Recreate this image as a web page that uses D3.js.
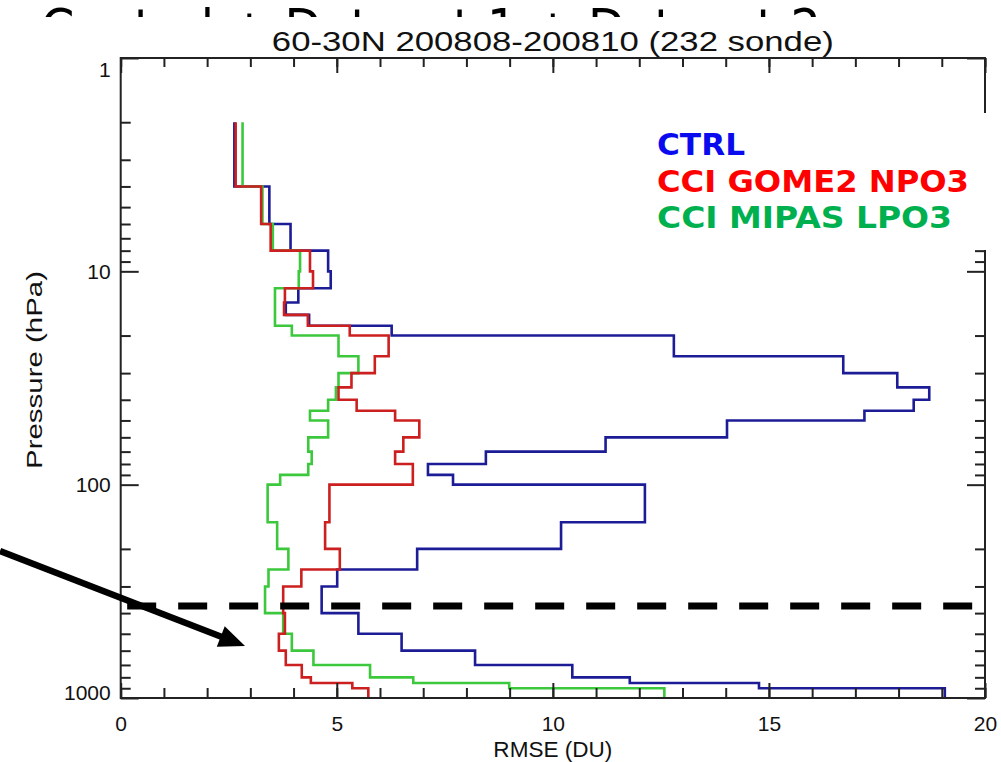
<!DOCTYPE html>
<html>
<head>
<meta charset="utf-8">
<script src="https://cdn.jsdelivr.net/npm/d3@7"></script>
<style>
  html, body { margin: 0; padding: 0; background: #fff; }
  svg { display: block; }
</style>
</head>
<body>
<svg id="chart" width="1001" height="762"></svg>
<script>
// ---------------- DATA ----------------
const slideTitle = "Control + Dataset 1 + Dataset 2";
const chartTitle = "60-30N 200808-200810 (232 sonde)";
const xLabel = "RMSE (DU)";
const yLabel = "Pressure (hPa)";
const xTicks = [0, 5, 10, 15, 20];
const xTickLabels = ["0", "5", "10", "15", "20"];
const yTicks = [1, 10, 100, 1000];
const yTickLabels = ["1", "10", "100", "1000"];
const seriesNames = ["CTRL", "CCI GOME2 NPO3", "CCI MIPAS LPO3"];

// pressure layer boundaries (hPa)
const levels = [2, 4, 6, 8, 10, 12, 14, 16, 18, 20, 25, 30, 35, 40, 45, 50,
                60, 70, 80, 90, 100, 150, 200, 250, 300, 400, 500, 600, 700, 800, 850, 900, 1000];
// RMSE (DU) per layer
const ctrl  = [2.63, 3.44, 3.93, 4.80, 4.86, 4.11, 3.82, 4.36, 6.27, 12.80, 16.72, 17.97, 18.71, 18.35, 17.21, 14.03,
               11.22, 8.45, 7.11, 7.69, 12.13, 10.19, 6.86, 5.01, 4.65, 5.50, 6.50, 8.20, 10.45, 11.78, 14.77, 19.07];
const gome2 = [2.66, 3.25, 3.47, 4.38, 4.45, 3.80, 3.78, 4.33, 5.30, 6.20, 5.88, 5.34, 5.04, 5.46, 6.35, 6.91,
               6.54, 6.35, 6.76, 6.76, 4.83, 4.73, 5.07, 4.18, 3.76, 3.80, 3.66, 3.82, 4.19, 4.40, 5.36, 5.73];
const mipas = [2.82, 3.28, 3.52, 4.15, 4.12, 3.57, 3.57, 3.57, 3.96, 5.04, 5.50, 5.04, 4.98, 4.80, 4.38, 4.80,
               4.34, 4.42, 4.34, 3.69, 3.40, 3.62, 3.88, 3.42, 3.34, 3.76, 3.96, 4.46, 5.77, 6.77, 8.99, 12.58];
const dashedLevel = 370;   // hPa, horizontal dashed marker
const dashedExtent = [0.15, 19.8];  // RMSE range of the dashed marker

// ---------------- DRAW ----------------
const svg = d3.select("#chart");
const L = 120.7, R = 985, T = 58, B = 698;
const x = d3.scaleLinear().domain([0, 20]).range([L, R]);
const y = d3.scaleLog().domain([1, 1000]).range([T, B]);

svg.append("rect").attr("width", 1001).attr("height", 762).attr("fill", "#fff");

// slide title partially hidden behind the chart
svg.append("clipPath").attr("id", "topclip")
  .append("rect").attr("x", 0).attr("y", 0).attr("width", 1001).attr("height", 17);
svg.append("text").attr("clip-path", "url(#topclip)")
  .attr("x", 41).attr("y", 46)
  .attr("font-family", "DejaVu Sans, Verdana, sans-serif").attr("font-size", 52)
  .attr("textLength", 780).attr("lengthAdjust", "spacingAndGlyphs")
  .attr("fill", "#000").text(slideTitle);

// chart title
svg.append("text").attr("x", (L + R) / 2).attr("y", 51).attr("text-anchor", "middle")
  .attr("font-family", "Liberation Sans, Arial, sans-serif").attr("font-size", 28)
  .attr("textLength", 562).attr("lengthAdjust", "spacingAndGlyphs")
  .attr("fill", "#111").text(chartTitle);

// series step lines
const colors = ["#1c1c96", "#cc1f1f", "#3cc83c"];
const series = [ctrl, gome2, mipas];
const stepPoints = vals => vals.flatMap((v, i) => [[v, levels[i]], [v, levels[i + 1]]]);
const line = d3.line().x(d => x(d[0])).y(d => y(d[1]));
const order = [0, 2, 1];
order.forEach(k => {
  svg.append("path").datum(stepPoints(series[k]))
    .attr("d", line).attr("fill", "none")
    .attr("stroke", colors[k]).attr("stroke-width", 2.6)
    .attr("stroke-linejoin", "miter");
});

// axes
const axisStyle = g => {
  g.select(".domain").remove();
  g.selectAll(".tick line").attr("stroke", "#222").attr("stroke-width", 2);
  g.selectAll("text").attr("font-family", "Liberation Sans, Arial, sans-serif")
    .attr("font-size", 21).attr("fill", "#111");
};
const minorX = d3.range(0, 21, 1);
const minorY = y.ticks().filter(v => !yTicks.includes(v));

svg.append("g").attr("transform", `translate(0,${B})`)
  .call(d3.axisBottom(x).tickValues(minorX).tickSize(-10).tickSizeOuter(0).tickFormat(""))
  .call(axisStyle);
svg.append("g").attr("transform", `translate(0,${B})`)
  .call(d3.axisBottom(x).tickValues(xTicks).tickSize(-15).tickSizeOuter(0).tickPadding(18)
        .tickFormat((d, i) => xTickLabels[i]))
  .call(axisStyle);
svg.append("g").attr("transform", `translate(0,${T})`)
  .call(d3.axisTop(x).tickValues(minorX).tickSize(-9).tickSizeOuter(0).tickFormat(""))
  .call(axisStyle);
svg.append("g").attr("transform", `translate(0,${T})`)
  .call(d3.axisTop(x).tickValues(xTicks).tickSize(-15).tickSizeOuter(0).tickFormat(""))
  .call(axisStyle);

svg.append("g").attr("transform", `translate(${L},0)`)
  .call(d3.axisLeft(y).tickValues(minorY).tickSize(-10).tickSizeOuter(0).tickFormat(""))
  .call(axisStyle);
const yAx = svg.append("g").attr("transform", `translate(${L},0)`)
  .call(d3.axisLeft(y).tickValues(yTicks).tickSize(-18).tickSizeOuter(0).tickPadding(10)
        .tickFormat((d, i) => yTickLabels[i]))
  .call(axisStyle);
yAx.selectAll(".tick text").attr("dy", d => d === 1 ? "0.9em" : d === 1000 ? "0.05em" : "0.32em");
svg.append("g").attr("transform", `translate(${R},0)`)
  .call(d3.axisRight(y).tickValues(minorY).tickSize(-10).tickSizeOuter(0).tickFormat(""))
  .call(axisStyle);
svg.append("g").attr("transform", `translate(${R},0)`)
  .call(d3.axisRight(y).tickValues(yTicks).tickSize(-18).tickSizeOuter(0).tickFormat(""))
  .call(axisStyle);

// frame
svg.append("rect").attr("x", L).attr("y", T).attr("width", R - L).attr("height", B - T)
  .attr("fill", "none").attr("stroke", "#222").attr("stroke-width", 2);

// axis titles
svg.append("text").attr("x", (L + R) / 2).attr("y", 757).attr("text-anchor", "middle")
  .attr("font-family", "Liberation Sans, Arial, sans-serif").attr("font-size", 22)
  .attr("textLength", 119).attr("lengthAdjust", "spacingAndGlyphs")
  .attr("fill", "#111").text(xLabel);
svg.append("text").attr("transform", "translate(42,370) rotate(-90)").attr("text-anchor", "middle")
  .attr("font-family", "Liberation Sans, Arial, sans-serif").attr("font-size", 22)
  .attr("textLength", 198).attr("lengthAdjust", "spacingAndGlyphs")
  .attr("fill", "#111").text(yLabel);

// legend (white box hides part of right axis)
svg.append("rect").attr("x", 640).attr("y", 113).attr("width", 361).attr("height", 137).attr("fill", "#fff");
const legendLen = [88, 312, 295];
seriesNames.forEach((n, i) => {
  svg.append("text").attr("x", 657).attr("y", 155 + i * 36.7)
    .attr("font-family", "DejaVu Sans, Verdana, sans-serif").attr("font-weight", "bold")
    .attr("font-size", 31).attr("textLength", legendLen[i]).attr("lengthAdjust", "spacingAndGlyphs")
    .attr("fill", ["#0a0aee", "#ff0000", "#00b04f"][i]).text(n);
});

// dashed marker
svg.append("line")
  .attr("x1", x(dashedExtent[0])).attr("x2", x(dashedExtent[1]))
  .attr("y1", y(dashedLevel)).attr("y2", y(dashedLevel))
  .attr("stroke", "#000").attr("stroke-width", 7).attr("stroke-dasharray", "29,22");

// arrow annotation
const tip = [245, 646], start = [0, 551];
const dx = tip[0] - start[0], dy = tip[1] - start[1], len = Math.hypot(dx, dy);
const u = [dx / len, dy / len], nrm = [-u[1], u[0]];
const hl = 26, hw = 11;
const base = [tip[0] - hl * u[0], tip[1] - hl * u[1]];
svg.append("line").attr("x1", start[0]).attr("y1", start[1])
  .attr("x2", base[0] + 2 * u[0]).attr("y2", base[1] + 2 * u[1])
  .attr("stroke", "#000").attr("stroke-width", 6.5);
svg.append("path").attr("fill", "#000")
  .attr("d", `M${tip[0]},${tip[1]}L${base[0] + hw * nrm[0]},${base[1] + hw * nrm[1]}L${base[0] - hw * nrm[0]},${base[1] - hw * nrm[1]}Z`);
</script>
</body>
</html>
